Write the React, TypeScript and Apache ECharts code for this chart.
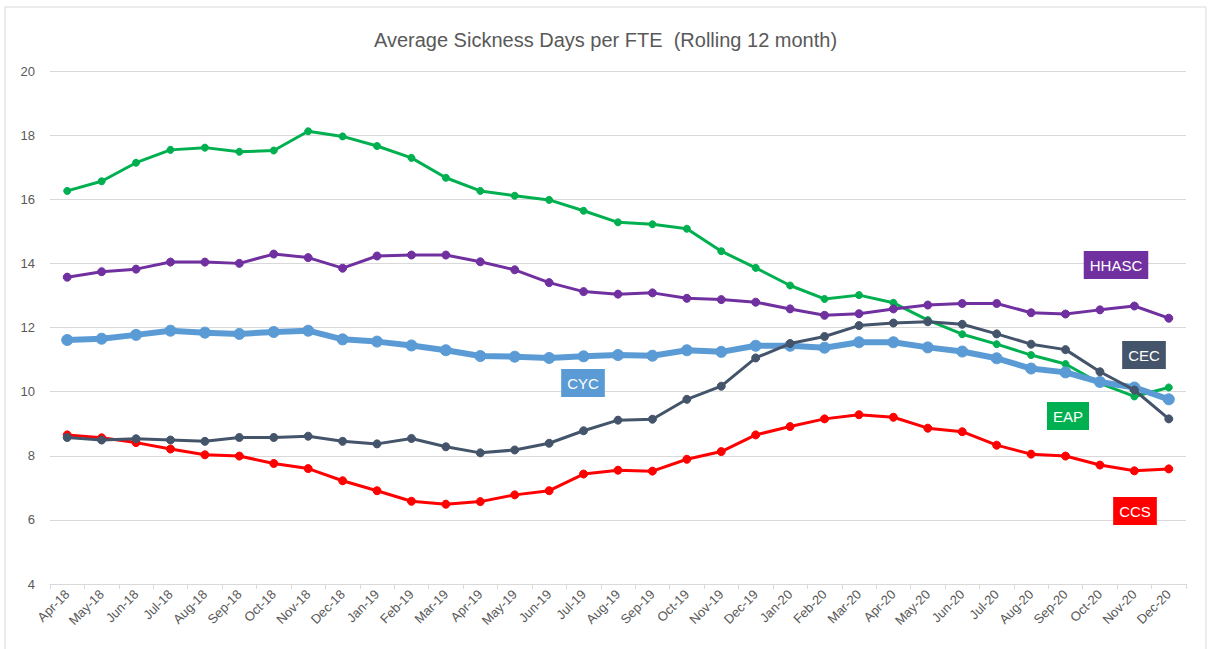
import React, { useEffect, useRef } from "react";
import * as echarts from "echarts";

const months = [
  "Apr-18", "May-18", "Jun-18", "Jul-18", "Aug-18", "Sep-18", "Oct-18", "Nov-18", "Dec-18",
  "Jan-19", "Feb-19", "Mar-19", "Apr-19", "May-19", "Jun-19", "Jul-19", "Aug-19", "Sep-19", "Oct-19", "Nov-19", "Dec-19",
  "Jan-20", "Feb-20", "Mar-20", "Apr-20", "May-20", "Jun-20", "Jul-20", "Aug-20", "Sep-20", "Oct-20", "Nov-20", "Dec-20",
];

const eap = [
  16.26, 16.56, 17.14, 17.54, 17.61, 17.48, 17.52, 18.12, 17.96,
  17.66, 17.29, 16.67, 16.26, 16.11, 15.98, 15.64, 15.28, 15.22, 15.08, 14.38, 13.86,
  13.31, 12.89, 13.01, 12.77, 12.23, 11.79, 11.48, 11.14, 10.86, 10.26, 9.85, 10.13,
];

const hhasc = [
  13.57, 13.74, 13.82, 14.04, 14.04, 14.0, 14.29, 14.18, 13.85,
  14.23, 14.26, 14.26, 14.05, 13.8, 13.4, 13.12, 13.04, 13.08, 12.91, 12.87, 12.79,
  12.58, 12.38, 12.43, 12.58, 12.7, 12.75, 12.75, 12.46, 12.42, 12.55, 12.67, 12.29,
];

const cyc = [
  11.61, 11.65, 11.77, 11.9, 11.84, 11.8, 11.86, 11.9, 11.63,
  11.56, 11.44, 11.29, 11.11, 11.09, 11.05, 11.1, 11.14, 11.12, 11.29, 11.24, 11.43,
  11.43, 11.37, 11.54, 11.54, 11.38, 11.25, 11.04, 10.72, 10.6, 10.3, 10.13, 9.76,
];

const cec = [
  8.57, 8.49, 8.53, 8.49, 8.45, 8.57, 8.57, 8.61, 8.45,
  8.37, 8.54, 8.28, 8.09, 8.18, 8.39, 8.78, 9.11, 9.14, 9.76, 10.17, 11.05,
  11.5, 11.72, 12.06, 12.14, 12.18, 12.1, 11.8, 11.48, 11.31, 10.62, 10.05, 9.15,
];

const ccs = [
  8.65, 8.56, 8.41, 8.21, 8.03, 7.99, 7.76, 7.6, 7.22,
  6.91, 6.58, 6.49, 6.57, 6.78, 6.91, 7.43, 7.55, 7.52, 7.89, 8.13, 8.65,
  8.91, 9.15, 9.28, 9.2, 8.86, 8.75, 8.33, 8.05, 7.99, 7.71, 7.53, 7.59,
];

const yTicks = { min: 4, max: 20, interval: 2 };

const FONT = "'Liberation Sans', Arial, sans-serif";

function lineSeries(name: string, data: number[], color: string, width: number, size: number, z: number) {
  return {
    name,
    type: "line",
    data,
    z,
    symbol: "circle",
    symbolSize: size,
    lineStyle: { color, width },
    itemStyle: { color, borderColor: color, borderWidth: 1 },
    emphasis: { disabled: true },
  };
}

function tag(text: string, x: number, y: number, bg: string) {
  return {
    type: "text",
    x,
    y,
    z: 100,
    style: {
      text,
      fill: "#ffffff",
      font: `15px ${FONT}`,
      align: "center",
      verticalAlign: "middle",
      backgroundColor: bg,
      padding: [7, 6, 6, 6],
    },
  };
}

export default function App() {
  const ref = useRef<HTMLDivElement>(null);
  useEffect(() => {
    if (!ref.current) return;
    const chart = echarts.init(ref.current, undefined, { renderer: "svg" });
    chart.setOption({
      animation: false,
      backgroundColor: "#ffffff",
      title: {
        text: "Average Sickness Days per FTE  (Rolling 12 month)",
        left: "center",
        top: 25,
        textStyle: { color: "#595959", fontSize: 20, fontWeight: "normal", fontFamily: FONT },
      },
      grid: { left: 50, right: 25, top: 71, bottom: 65 },
      xAxis: {
        type: "category",
        data: months,
        boundaryGap: true,
        axisLine: { lineStyle: { color: "#d9d9d9" } },
        axisTick: { show: true, length: 5, lineStyle: { color: "#d9d9d9" } },
        axisLabel: { rotate: 45, color: "#595959", fontSize: 13, fontFamily: FONT, margin: 8, interval: 0 },
        splitLine: { show: false },
      },
      yAxis: {
        type: "value",
        min: yTicks.min,
        max: yTicks.max,
        interval: yTicks.interval,
        axisLine: { show: false },
        axisTick: { show: false },
        axisLabel: { color: "#595959", fontSize: 13, fontFamily: FONT, margin: 15 },
        splitLine: { lineStyle: { color: "#d9d9d9", width: 1 } },
      },
      series: [
        lineSeries("CCS", ccs, "#ff0000", 3, 8, 2),
        lineSeries("EAP", eap, "#00b050", 3, 7, 3),
        lineSeries("HHASC", hhasc, "#7030a0", 3, 8, 4),
        lineSeries("CYC", cyc, "#5b9bd5", 6, 11, 5),
        lineSeries("CEC", cec, "#44546a", 3, 8, 6),
      ],
      graphic: [
        {
          type: "rect",
          z: -10,
          shape: { x: 5, y: 7, width: 1201, height: 700 },
          style: { fill: "none", stroke: "#d9d9d9", lineWidth: 1 },
          silent: true,
        },
        tag("HHASC", 1116, 265, "#7030a0"),
        tag("CEC", 1144, 355, "#44546a"),
        tag("EAP", 1068, 416, "#00b050"),
        tag("CCS", 1135, 511, "#ff0000"),
        tag("CYC", 583, 383, "#5b9bd5"),
      ],
    });
    return () => chart.dispose();
  }, []);
  return (
    <div
      ref={ref}
      style={{ position: "fixed", left: 0, top: 0, width: 1211, height: 649 }}
    />
  );
}
